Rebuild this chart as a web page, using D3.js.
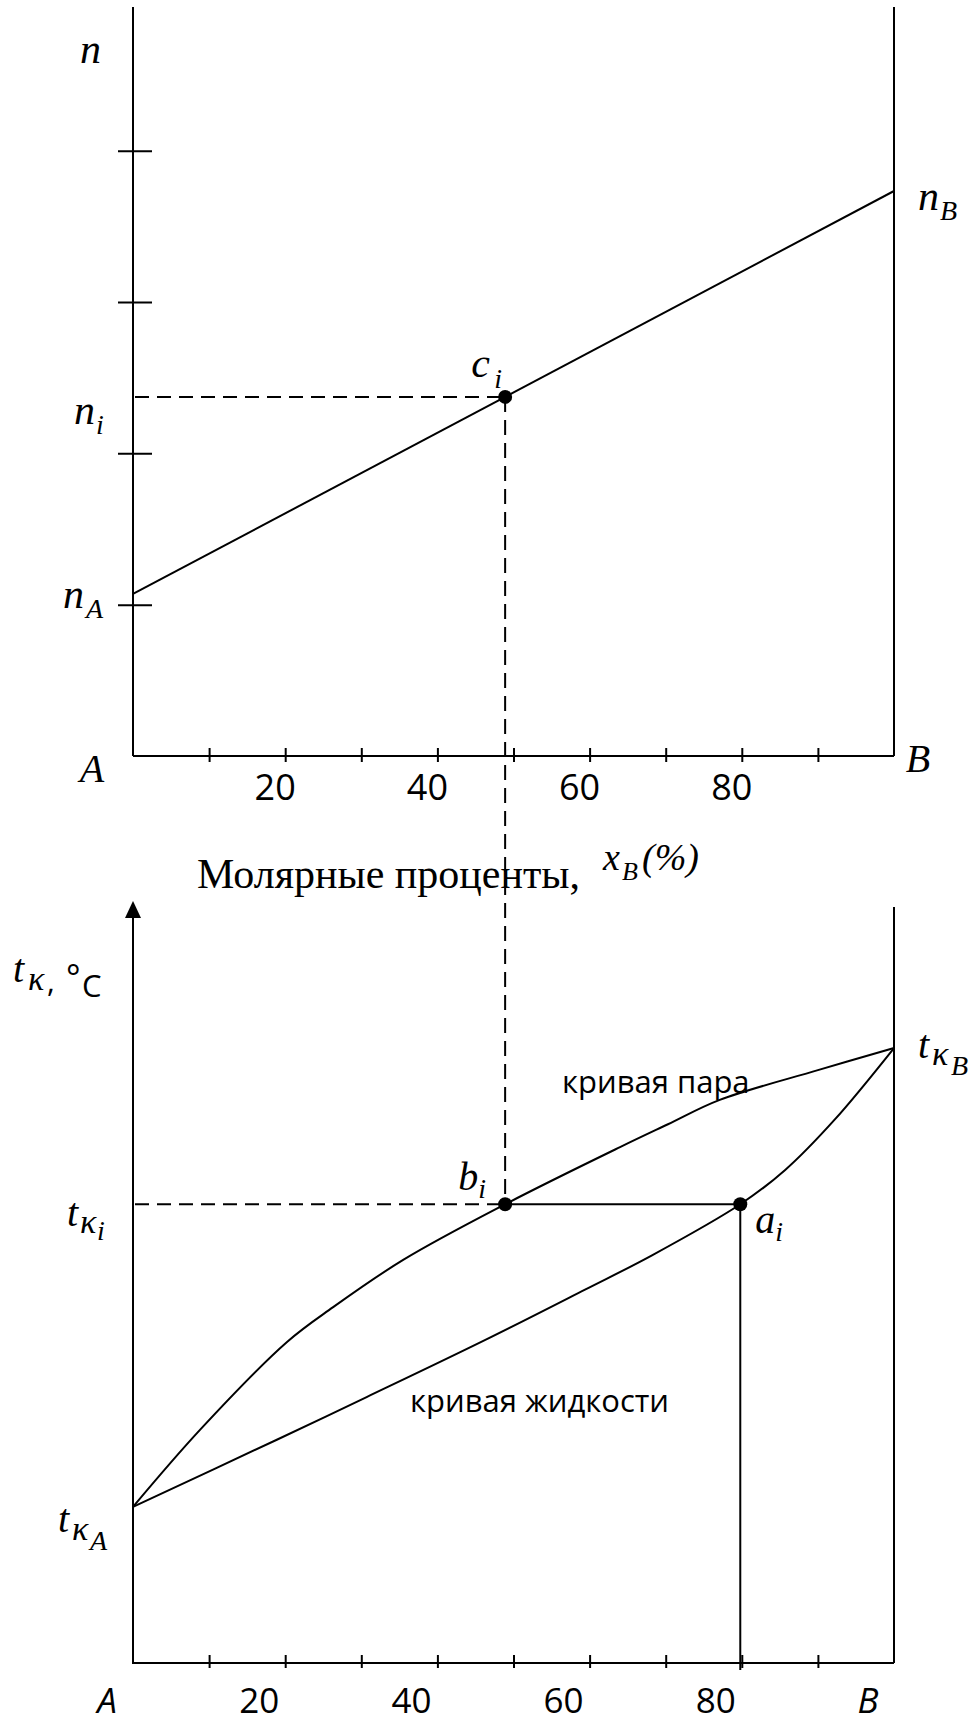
<!DOCTYPE html>
<html>
<head>
<meta charset="utf-8">
<script src="https://cdn.jsdelivr.net/npm/d3@7"></script>
<style>
  html, body { margin: 0; padding: 0; background: #fff; }
  svg { display: block; }
</style>
</head>
<body>
<svg id="chart" width="970" height="1726"></svg>
<script>
// ---- composition axis (mol % of component B) ----
const compDomain = [0, 100];
const compTicks = [10, 20, 30, 40, 50, 60, 70, 80, 90];
const topTickValues = [20, 40, 60, 80];
const topTickLabels = ["20", "40", "60", "80"];
const bottomTickValues = [0, 20, 40, 60, 80, 100];
const bottomTickLabels = ["A", "20", "40", "60", "80", "B"];

// ---- refractive index vs composition (upper panel) ----
const nDomainTop = 4.95;
const nTicks = [1, 2, 3, 4];
const nA = 1.071;          // pure A
const nB = 3.734;          // pure B
const xi = 48.9;           // composition of the vapour sample, %

// ---- boiling diagram (lower panel) ----
const tDomainTop = 100;
const tFrameTop = 99.2;
const tA = 20.5;           // boiling point of A
const tB = 80.7;           // boiling point of B
const ti = 60.2;           // boiling point of the sample
const xa = 79.8;           // liquid composition at ti
const vaporX = [0, 8.8, 20.2, 26.3, 35.5, 48.9, 64.0, 70.3, 77.1, 90.0, 100];
const vaporT = [20.5, 30.6, 42.1, 46.7, 52.9, 60.2, 67.7, 70.7, 73.9, 77.8, 80.7];
const liquidX = [0, 18.9, 30.7, 46.3, 59.4, 68.2, 79.8, 85.7, 92.2, 100];
const liquidT = [20.5, 29.3, 34.9, 42.4, 49.0, 53.5, 60.2, 64.7, 71.3, 80.7];

const SERIF = "'Liberation Serif', 'Times New Roman', serif";
const SANS = "'Open Sans', 'Noto Sans', sans-serif";
const SW = 2;
const DASH = "14,8";

const svg = d3.select("#chart");

const x = d3.scaleLinear().domain(compDomain).range([133, 894]);
const yN = d3.scaleLinear().domain([0, nDomainTop]).range([756, 7]);
const yT = d3.scaleLinear().domain([0, tDomainTop]).range([1663, 901]);

function seg(g, x1, y1, x2, y2, dash) {
  const l = g.append("line")
    .attr("x1", x1).attr("y1", y1).attr("x2", x2).attr("y2", y2)
    .attr("stroke", "#000").attr("stroke-width", SW);
  if (dash) l.attr("stroke-dasharray", dash);
  return l;
}

// text made of pieces: [text, x, y, size, italic, family]
function label(g, pieces) {
  const t = g.append("text").attr("fill", "#000");
  pieces.forEach(p => {
    t.append("tspan")
      .attr("x", p[1]).attr("y", p[2])
      .style("font-size", p[3] + "px")
      .style("font-style", p[4] ? "italic" : "normal")
      .style("font-family", p[5] || SERIF)
      .text(p[0]);
  });
  return t;
}

function styleAxis(g) {
  g.select(".domain").remove();
  g.selectAll(".tick line").attr("stroke", "#000").attr("stroke-width", SW);
}

// ================= upper panel =================
const upper = svg.append("g");

// frame: left axis, right edge, baseline
seg(upper, x(0), yN(nDomainTop), x(0), yN(0));
seg(upper, x(100), yN(nDomainTop), x(100), yN(0));
seg(upper, x(0), yN(0), x(100), yN(0));

upper.append("g")
  .attr("transform", `translate(0,${yN(0) + 6})`)
  .call(d3.axisTop(x).tickValues(compTicks).tickSize(14).tickFormat(""))
  .call(styleAxis);

upper.append("g")
  .attr("transform", `translate(${x(0) + 19},0)`)
  .call(d3.axisLeft(yN).tickValues(nTicks).tickSize(34).tickFormat(""))
  .call(styleAxis);

upper.selectAll("text.tl")
  .data(topTickValues)
  .join("text")
  .attr("class", "tl")
  .attr("x", (d) => x(d) - 10)
  .attr("y", yN(0) + 44)
  .attr("text-anchor", "middle")
  .style("font-family", SANS)
  .style("font-size", "36px")
  .text((d, i) => topTickLabels[i]);

// n = f(x) straight line
const nLine = [[0, nA], [100, nB]];
upper.append("path")
  .attr("d", d3.line().x(d => x(d[0])).y(d => yN(d[1]))(nLine))
  .attr("fill", "none").attr("stroke", "#000").attr("stroke-width", SW);

const ni = nA + (nB - nA) * xi / 100;

// projection from c_i to the n axis
seg(upper, x(0) + 2, yN(ni), x(xi), yN(ni), DASH);

// labels
label(upper, [["n", 80, 63, 42, true]]);
label(upper, [["n", x(0) - 59, yN(ni) + 27, 42, true], ["i", x(0) - 37, yN(ni) + 37, 28, true]]);
label(upper, [["n", x(0) - 70, yN(nA) + 14, 42, true], ["A", x(0) - 47, yN(nA) + 24, 28, true]]);
label(upper, [["n", x(100) + 24, yN(nB) + 19, 42, true], ["B", x(100) + 46, yN(nB) + 29, 28, true]]);
label(upper, [["c", x(xi) - 34, yN(ni) - 20, 42, true], ["i", x(xi) - 11, yN(ni) - 9, 28, true]]);
label(upper, [["A", x(0) - 41, yN(0) + 26, 40, true]]).attr("text-anchor", "middle");
label(upper, [["B", x(100) + 24, yN(0) + 16, 40, true]]).attr("text-anchor", "middle");

// axis title between the panels
label(svg, [
  ["Молярные проценты,", 197, 888, 42, false],
  ["x", 603, 870, 38, true],
  ["B", 622, 880, 26, true],
  ["(%)", 642, 870, 38, true]
]);

// ================= lower panel =================
const lower = svg.append("g");

// temperature axis with arrow
seg(lower, x(0), yT(tDomainTop) + 14, x(0), yT(0));
lower.append("path")
  .attr("d", d3.line()([[x(0), yT(tDomainTop)], [x(0) - 8, yT(tDomainTop) + 17], [x(0) + 8, yT(tDomainTop) + 17]]) + "Z")
  .attr("fill", "#000");
seg(lower, x(100), yT(tFrameTop), x(100), yT(0));
seg(lower, x(0) - 1, yT(0), x(100), yT(0));

lower.append("g")
  .attr("transform", `translate(0,${yT(0) + 5})`)
  .call(d3.axisTop(x).tickValues(compTicks).tickSize(13).tickFormat(""))
  .call(styleAxis);

lower.selectAll("text.bl")
  .data(bottomTickValues)
  .join("text")
  .attr("class", "bl")
  .attr("x", (d) => x(d) - 26)
  .attr("y", yT(0) + 50)
  .attr("text-anchor", "middle")
  .style("font-family", SANS)
  .style("font-size", "35px")
  .style("font-style", (d, i) => (i === 0 || i === bottomTickValues.length - 1) ? "italic" : "normal")
  .text((d, i) => bottomTickLabels[i]);

// smooth curves through the read points
const curve = d3.line().x(d => x(d[0])).y(d => yT(d[1])).curve(d3.curveCatmullRom.alpha(0.5));
const vapor = vaporX.map((v, i) => [v, vaporT[i]]);
const liquid = liquidX.map((v, i) => [v, liquidT[i]]);

lower.append("path").attr("d", curve(vapor))
  .attr("fill", "none").attr("stroke", "#000").attr("stroke-width", SW);
lower.append("path").attr("d", curve(liquid))
  .attr("fill", "none").attr("stroke", "#000").attr("stroke-width", SW);

// tie line and projections
seg(lower, x(0) + 2, yT(ti), x(xi), yT(ti), DASH);
seg(lower, x(xi), yT(ti), x(xa), yT(ti));
seg(lower, x(xa), yT(ti), x(xa), yT(0) + 7);

// vertical projection from c_i to b_i
seg(svg, x(xi), yN(ni), x(xi), yT(ti), "15,8");

// points
const pts = [[x(xi), yN(ni)], [x(xi), yT(ti)], [x(xa), yT(ti)]];
svg.selectAll("circle.pt").data(pts).join("circle")
  .attr("class", "pt")
  .attr("cx", d => d[0]).attr("cy", d => d[1]).attr("r", 7).attr("fill", "#000");

// labels
label(lower, [["t", 13, 982, 40, true], ["κ", 28, 990, 34, true], [",", 47, 992, 30, false, SANS],
              ["°", 66, 990, 34, false, SANS], ["C", 82, 997, 31, false, SANS]]);
label(lower, [["t", x(0) - 66, yT(ti) + 22, 40, true], ["κ", x(0) - 53, yT(ti) + 29, 34, true], ["i", x(0) - 36, yT(ti) + 36, 28, true]]);
label(lower, [["t", x(0) - 75, yT(tA) + 25, 40, true], ["κ", x(0) - 61, yT(tA) + 33, 34, true], ["A", x(0) - 43, yT(tA) + 43, 28, true]]);
label(lower, [["t", x(100) + 24, yT(tB) + 10, 40, true], ["κ", x(100) + 38, yT(tB) + 17, 34, true], ["B", x(100) + 57, yT(tB) + 27, 28, true]]);
label(lower, [["b", x(xi) - 47, yT(ti) - 14, 40, true], ["i", x(xi) - 27, yT(ti) - 6, 28, true]]);
label(lower, [["a", x(xa) + 15, yT(ti) + 29, 40, true], ["i", x(xa) + 35, yT(ti) + 37, 28, true]]);

label(lower, [["кривая пара", 562, 1093, 31, false, SANS]]);
label(lower, [["кривая жидкости", 410, 1412, 31, false, SANS]]);
</script>
</body>
</html>
